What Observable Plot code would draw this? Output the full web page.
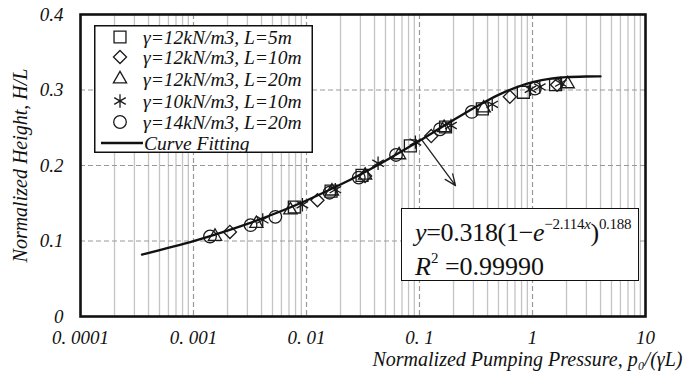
<!DOCTYPE html>
<html><head><meta charset="utf-8">
<script src="https://cdn.jsdelivr.net/npm/d3@7"></script>
<script src="https://cdn.jsdelivr.net/npm/@observablehq/plot@0.6"></script>
<style>
body{margin:0;background:#fff;}
#wrap{position:relative;width:685px;height:382px;font-family:'Liberation Serif','Times New Roman',serif;color:#111;}
#eq{position:absolute;left:401px;top:208px;width:236px;height:71px;border:1.5px solid #111;background:#fff;font-size:26px;line-height:1;}
#eq .l1{position:absolute;left:13px;top:11px;white-space:nowrap;letter-spacing:-0.3px;}
#eq .l2{position:absolute;left:13px;top:45px;white-space:nowrap;}
#eq sup{font-size:15px;vertical-align:0;position:relative;top:-12px;}
#legend{position:absolute;left:94px;top:25px;}
</style></head><body><div id="wrap"></div>
<script>
// ---- data ----
const xTicks = [1e-4, 1e-3, 1e-2, 1e-1, 1, 10];
const xTickLabels = ["0. 0001", "0. 001", "0. 01", "0. 1", "1", "10"];
const yTicks = [0, 0.1, 0.2, 0.3, 0.4];
const yTickLabels = ["0", "0.1", "0.2", "0.3", "0.4"];

const seriesNames = ["γ=12kN/m3, L=5m", "γ=12kN/m3, L=10m", "γ=12kN/m3, L=20m", "γ=10kN/m3, L=10m", "γ=14kN/m3, L=20m"];

const sqX = [0.0078, 0.0165, 0.031, 0.083, 0.17, 0.36, 0.83, 1.6];
const sqY = [0.145, 0.166, 0.187, 0.226, 0.251, 0.275, 0.297, 0.307];
const dmX = [0.0021, 0.0125, 0.033, 0.127, 0.63, 1.65];
const dmY = [0.112, 0.154, 0.186, 0.239, 0.291, 0.307];
const trX = [0.00155, 0.0036, 0.0072, 0.0168, 0.033, 0.066, 0.165, 0.37, 2.05];
const trY = [0.106, 0.123, 0.141, 0.166, 0.187, 0.214, 0.250, 0.276, 0.308];
const asX = [0.0041, 0.0092, 0.018, 0.043, 0.092, 0.19, 0.44, 0.96, 1.16, 1.78];
const asY = [0.128, 0.148, 0.168, 0.203, 0.231, 0.253, 0.281, 0.301, 0.304, 0.309];
const ciX = [0.0014, 0.0032, 0.0053, 0.016, 0.029, 0.062, 0.152, 0.29, 1.05];
const ciY = [0.106, 0.121, 0.132, 0.164, 0.184, 0.214, 0.248, 0.271, 0.302];

// curve fitting points
const fitX = [0.00035, 0.001, 0.002, 0.003, 0.005, 0.01, 0.02, 0.03, 0.05, 0.1, 0.15, 0.2, 0.3, 0.4, 0.5, 0.7, 1, 1.5, 2, 3, 4];
const fitY = [0.0820, 0.0999, 0.1138, 0.1227, 0.1351, 0.1537, 0.1748, 0.1882, 0.2064, 0.2328, 0.2489, 0.2603, 0.2759, 0.2862, 0.2935, 0.3029, 0.3104, 0.3154, 0.3171, 0.3179, 0.3180];

const arrowFrom = [0.106, 0.233];
const arrowTo = [0.2085, 0.1733];

// ---- build ----
const series = [
  {x: sqX, y: sqY, symbol: "square2", r: 7.6},
  {x: dmX, y: dmY, symbol: "diamond2", r: 5.9},
  {x: trX, y: trY, symbol: "triangle2", r: 6.3},
  {x: asX, y: asY, symbol: "asterisk", r: 6.3},
  {x: ciX, y: ciY, symbol: "circle", r: 6.3}
];
const minor = [];
for (const d of [1e-4, 1e-3, 1e-2, 1e-1, 1]) for (let k = 2; k <= 9; k++) minor.push(d * k);
const fit = fitX.map((x, i) => ({x, y: fitY[i]}));

const font = "'Liberation Serif','Times New Roman',serif";
const chart = Plot.plot({
  width: 685, height: 382,
  marginLeft: 80, marginRight: 40, marginTop: 14, marginBottom: 66,
  style: {fontFamily: font, fontStyle: "italic", color: "#111", background: "#fff"},
  x: {type: "log", domain: [1e-4, 10]},
  y: {domain: [0, 0.4]},
  marks: [
    Plot.ruleX(minor, {stroke: "#c4c4c4", strokeWidth: 1.3}),
    Plot.ruleX(xTicks.slice(1, -1), {stroke: "#999", strokeWidth: 1.2, strokeDasharray: "5,3"}),
    Plot.ruleY(yTicks.slice(1, -1), {stroke: "#999", strokeWidth: 1.2, strokeDasharray: "5,3"}),
    Plot.axisX({ticks: xTicks, tickFormat: (d) => xTickLabels[xTicks.indexOf(d)], tickSize: 0, tickPadding: 14, fontSize: 19, label: null}),
    Plot.axisY({ticks: yTicks, tickFormat: (d) => yTickLabels[yTicks.indexOf(d)], tickSize: 0, tickPadding: 17, fontSize: 19, label: null}),
    Plot.text(["Normalized Height, H/L"], {frameAnchor: "left", textAnchor: "middle", rotate: -90, dx: -60, fontSize: 20}),
    Plot.text(["Normalized Pumping Pressure, p₀/(γL)"], {frameAnchor: "bottom-right", textAnchor: "end", dx: 37, dy: 49, fontSize: 20}),
    ...series.map(s => Plot.dot(s.x.map((x, i) => ({x, y: s.y[i]})), {x: "x", y: "y", symbol: () => s.symbol, r: s.r, stroke: "#1a1a1a", strokeWidth: 1.3, fill: "none"})),
    Plot.line(fit, {x: "x", y: "y", stroke: "#111", strokeWidth: 2.3, curve: "catmull-rom"}),
    Plot.arrow([0], {x1: () => arrowFrom[0], y1: () => arrowFrom[1], x2: () => arrowTo[0], y2: () => arrowTo[1], stroke: "#222", strokeWidth: 1.3, headLength: 14, headAngle: 45}),
    Plot.frame({stroke: "#111", strokeWidth: 2.6})
  ]
});
const wrap = document.getElementById("wrap");
wrap.appendChild(chart);

// legend (inside the plot area)
const lw = 219, lh = 128;
const leg = d3.create("svg").attr("id", "legend").attr("width", lw).attr("height", lh);
leg.append("rect").attr("x", 0.75).attr("y", 0.75).attr("width", lw - 1.5).attr("height", lh - 1.5).attr("fill", "#fff").attr("stroke", "#111").attr("stroke-width", 1.5);
const symMap = {square2: d3.symbolSquare2, diamond2: d3.symbolDiamond2, triangle2: d3.symbolTriangle2, asterisk: d3.symbolAsterisk, circle: d3.symbolCircle};
const rowY = [12, 32, 54, 76, 97, 118];
series.forEach((s, i) => {
  leg.append("path").attr("d", d3.symbol(symMap[s.symbol], s.r * s.r * Math.PI)()).attr("transform", `translate(26,${rowY[i]})`).attr("fill", "none").attr("stroke", "#1a1a1a").attr("stroke-width", 1.3);
  leg.append("text").attr("x", 49).attr("y", rowY[i]).attr("dy", "0.35em").attr("font-family", font).attr("font-style", "italic").attr("font-size", 19.5).attr("fill", "#111").text(seriesNames[i]);
});
leg.append("line").attr("x1", 7).attr("x2", 49).attr("y1", rowY[5]).attr("y2", rowY[5]).attr("stroke", "#111").attr("stroke-width", 2.3);
leg.append("text").attr("x", 50).attr("y", rowY[5]).attr("dy", "0.35em").attr("font-family", font).attr("font-style", "italic").attr("font-size", 19.5).attr("fill", "#111").text("Curve Fitting");
wrap.appendChild(leg.node());

// equation box
const eq = document.createElement("div");
eq.id = "eq";
eq.innerHTML = '<div class="l1"><i>y</i>=0.318(1−<i>e</i><sup>−2.114<i>x</i></sup>)<sup>0.188</sup></div><div class="l2"><i>R</i><sup>2</sup> =0.99990</div>';
wrap.appendChild(eq);
</script>
</body></html>
